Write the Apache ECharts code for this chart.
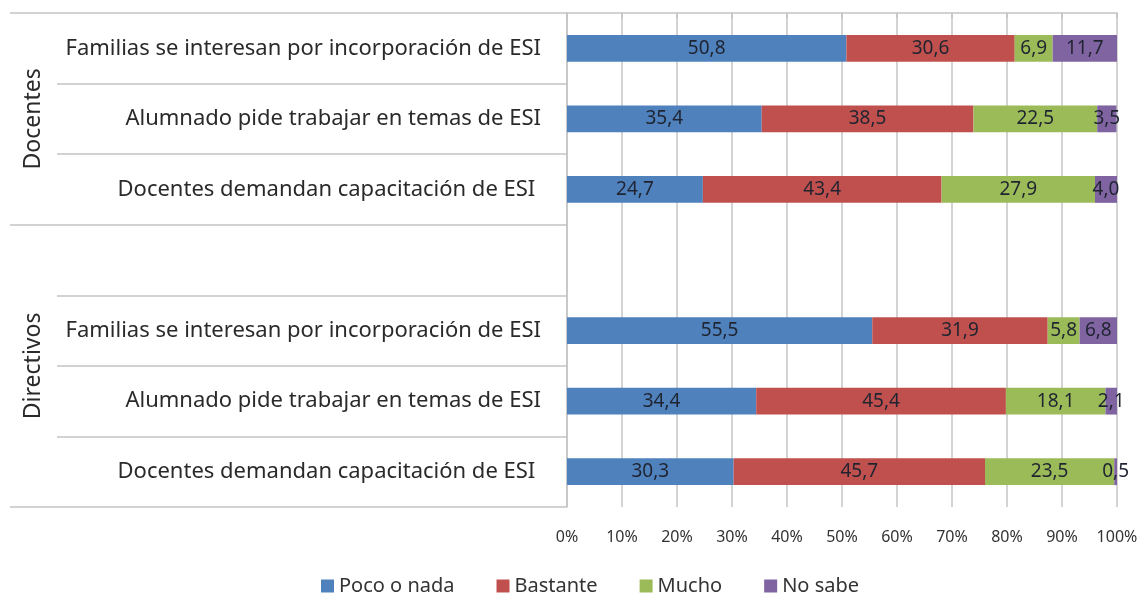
<!DOCTYPE html>
<html><head><meta charset="utf-8">
<script src="https://cdn.jsdelivr.net/npm/echarts@6/dist/echarts.min.js"></script>
<style>html,body{margin:0;padding:0;background:#fff}#c{width:1142px;height:593px}</style>
</head><body><div id="c"></div>
<script>
const categories = [
  'Familias se interesan por incorporación de ESI',
  'Alumnado pide trabajar en temas de ESI',
  'Docentes demandan capacitación de ESI ',
  '',
  'Familias se interesan por incorporación de ESI',
  'Alumnado pide trabajar en temas de ESI',
  'Docentes demandan capacitación de ESI '
];
const groupNames = ['Docentes', 'Directivos'];
const groupCenters = [1.5, 5];
const groupBounds = [0, 3, 7];
const seriesNames = ['Poco o nada', 'Bastante', 'Mucho', 'No sabe'];
const pocoONada = [50.8, 35.4, 24.7, null, 55.5, 34.4, 30.3];
const bastante  = [30.6, 38.5, 43.4, null, 31.9, 45.4, 45.7];
const mucho     = [6.9, 22.5, 27.9, null, 5.8, 18.1, 23.5];
const noSabe    = [11.7, 3.5, 4.0, null, 6.8, 2.1, 0.5];
const colors = ['#4F81BD', '#C0504D', '#9BBB59', '#8064A2'];

const FONT = 'Noto Sans';
const GRAY = '#c4c4c4';
const seriesData = [pocoONada, bastante, mucho, noSabe];

const chart = echarts.init(document.getElementById('c'), null, {renderer: 'canvas'});
chart.setOption({
  animation: false,
  color: colors,
  textStyle: {fontFamily: FONT},
  grid: {left: 567, right: 25, top: 13, bottom: 86, containLabel: false},
  legend: {
    top: 571, left: 316,
    itemWidth: 13, itemHeight: 13, itemGap: 42,
    icon: 'rect',
    textStyle: {fontFamily: FONT, fontSize: 20, color: '#333'},
    data: seriesNames
  },
  xAxis: {
    type: 'value', min: 0, max: 100, interval: 10,
    axisLine: {show: true, lineStyle: {color: GRAY, width: 1.5}},
    axisTick: {show: true, length: 5, lineStyle: {color: GRAY, width: 1.5}},
    splitLine: {show: true, lineStyle: {color: GRAY, width: 1.5}},
    axisLabel: {formatter: v => v + '%', fontFamily: FONT, fontSize: 16, color: '#333', margin: 22}
  },
  yAxis: [{
    type: 'category', inverse: true, data: categories,
    axisLine: {show: true, lineStyle: {color: GRAY, width: 1.5}},
    axisTick: {show: true, length: 510, lineStyle: {color: GRAY, width: 1.5}},
    axisLabel: {fontFamily: FONT, fontSize: 22, color: '#2a2a2a', margin: 26}
  }, {
    type: 'value', inverse: true, min: 0, max: 7, position: 'left', offset: 0,
    axisLine: {show: false},
    splitLine: {show: false},
    axisTick: {show: true, customValues: groupBounds, length: 557, lineStyle: {color: GRAY, width: 1.5}},
    axisLabel: {
      customValues: groupCenters,
      formatter: v => groupNames[groupCenters.indexOf(v)] || '',
      rotate: 90, fontFamily: FONT, fontSize: 23, color: '#2a2a2a', margin: 522
    }
  }],
  series: seriesNames.map((n, i) => ({
    name: n, type: 'bar', stack: 'total', yAxisIndex: 0,
    barCategoryGap: '62%',
    data: seriesData[i],
    label: {
      show: true, position: 'inside', color: '#1f2430', fontFamily: FONT, fontSize: 19,
      formatter: p => p.value == null ? '' : Number(p.value).toFixed(1).replace('.', ',')
    }
  }))
});
</script></body></html>
